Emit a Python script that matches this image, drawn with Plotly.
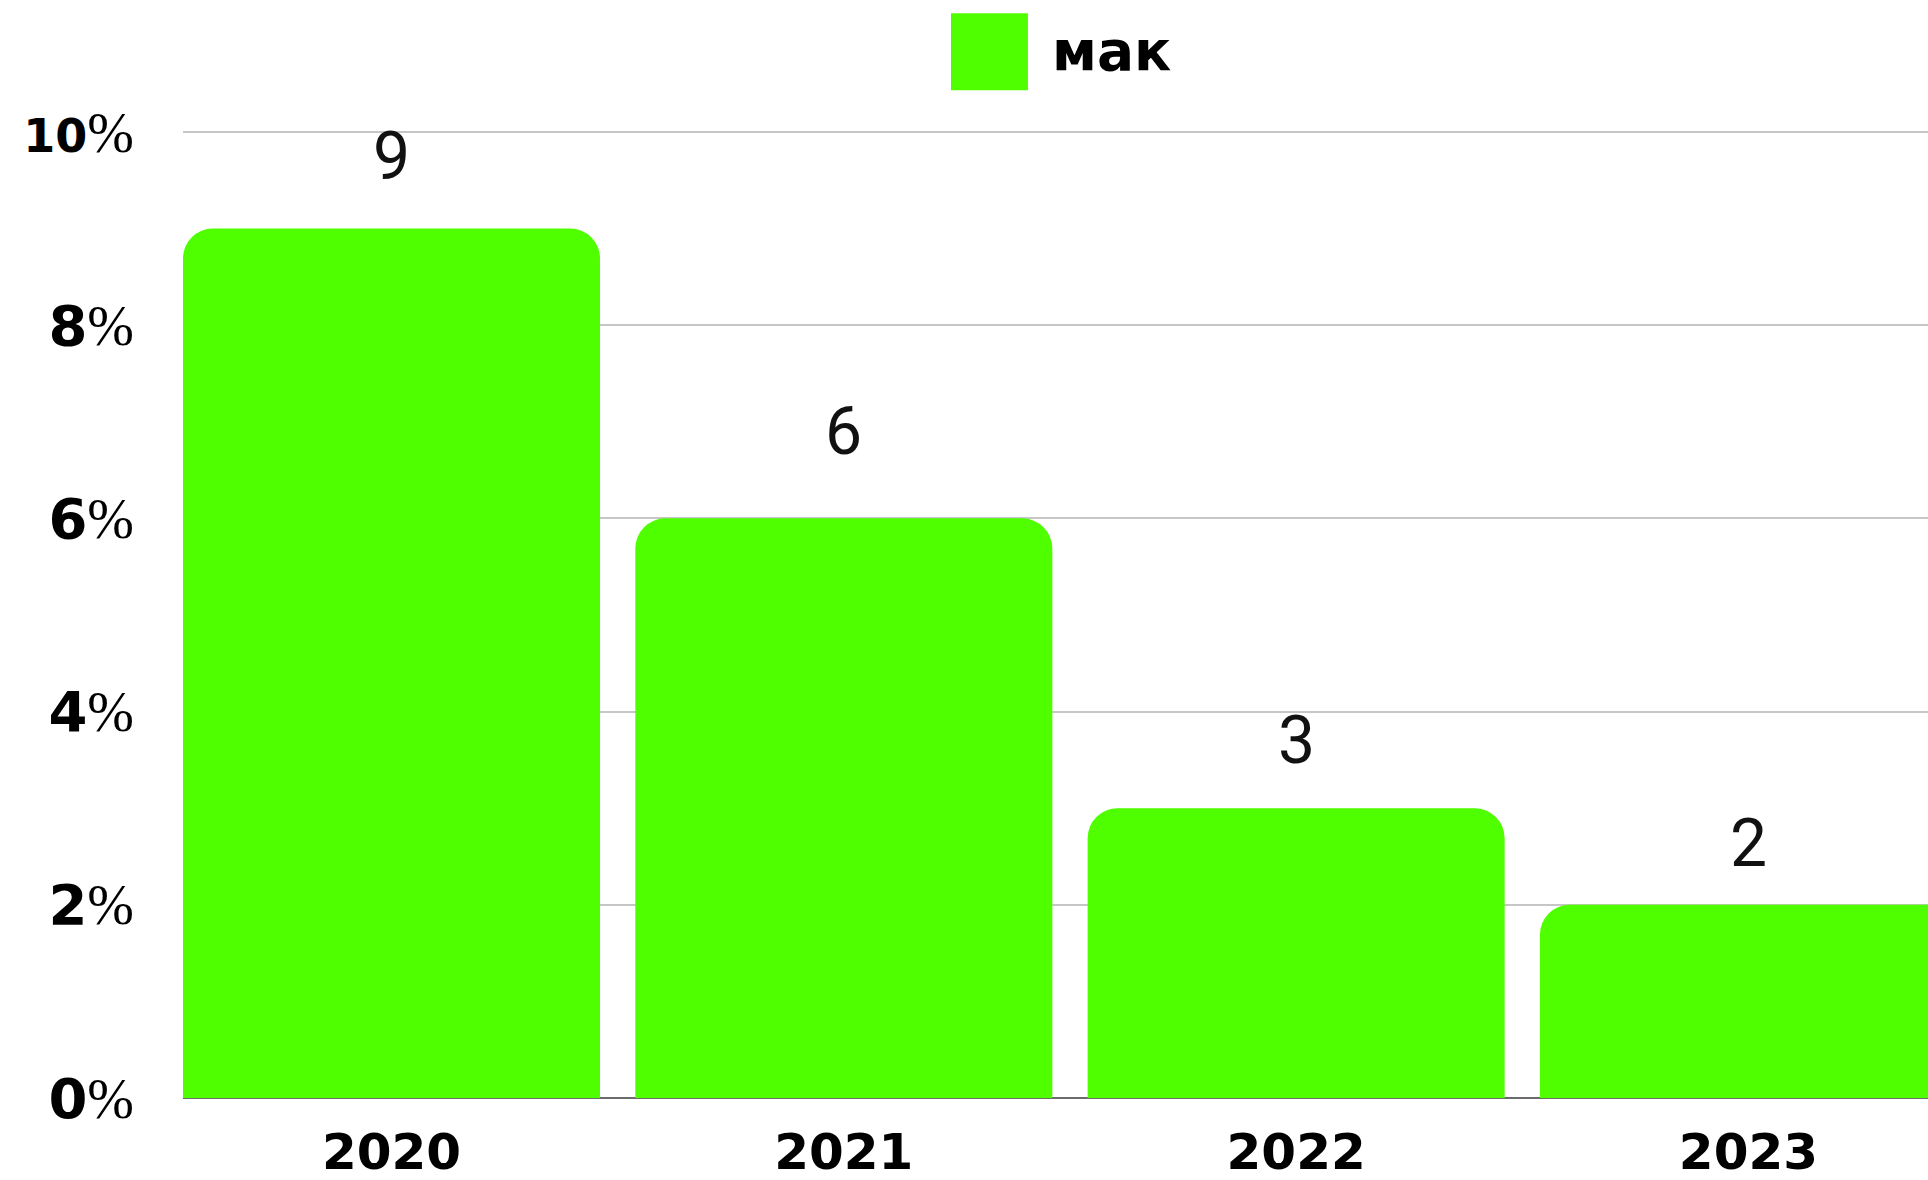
import plotly.graph_objects as go

years = ["2020", "2021", "2022", "2023"]
share = [9, 6, 3, 2]
series_name = "мак"
y_ticks = [0, 2, 4, 6, 8, 10]

GREEN = "#4fff00"

# extra lift of the value labels over each bar top (px)
label_lift = [72, 87, 68, 61]


def pct_label(v):
    num = "<b>%d</b>" % v
    if v >= 10:
        num = "<span style='font-size:46px'><b>%d</b></span>" % v
    return num + "<span style='font-family:Liberation Serif;font-weight:400'>%</span>"


fig = go.Figure()
fig.add_trace(go.Bar(x=years, y=share, name=series_name,
                     marker=dict(color=GREEN, line=dict(width=0)),
                     showlegend=False, hoverinfo="skip"))

for i, (v, lift) in enumerate(zip(share, label_lift)):
    fig.add_annotation(x=i, y=v, text=str(v), showarrow=False,
                       yanchor="middle", yshift=lift,
                       font=dict(family="Roboto", size=66, color="#111111"))

# legend drawn by hand: big square + bold text
fig.add_shape(type="rect", xref="paper", yref="paper",
              x0=0.4401, x1=0.4842, y0=1.0410, y1=1.1206,
              fillcolor=GREEN, line=dict(width=0))
fig.add_annotation(xref="paper", yref="paper", x=0.4966, y=1.082,
                   xanchor="left", yanchor="middle", showarrow=False,
                   text="<b>" + series_name + "</b>",
                   font=dict(family="DejaVu Sans", size=55, color="#000000"))

fig.update_layout(
    width=1928, height=1180,
    margin=dict(l=183, r=0, t=129.7, b=82, pad=0, autoexpand=False),
    plot_bgcolor="white", paper_bgcolor="white",
    bargap=0.078, barcornerradius=30,
    showlegend=False,
)
fig.update_xaxes(type="category", range=[-0.461, 3.397], automargin=False,
                 showgrid=False, showline=False,
                 ticks="", ticklabelstandoff=20,
                 tickfont=dict(family="DejaVu Sans", size=50, color="#000000", weight=700))
fig.update_yaxes(range=[0, 10.02], tickvals=y_ticks, ticktext=[pct_label(v) for v in y_ticks],
                 automargin=False,
                 showgrid=True, gridcolor="#c6c6c6", gridwidth=1.5,
                 zeroline=True, zerolinecolor="#6b6b6b", zerolinewidth=2,
                 layer="below traces", ticks="", ticklabelstandoff=48,
                 tickfont=dict(family="DejaVu Sans", size=56, color="#000000"))

# drop the default 8px page margin so the figure fills the window
fig.write_html("out.html", config={"displayModeBar": False},
               post_script="document.body.style.margin='0';document.body.style.overflow='hidden';")
